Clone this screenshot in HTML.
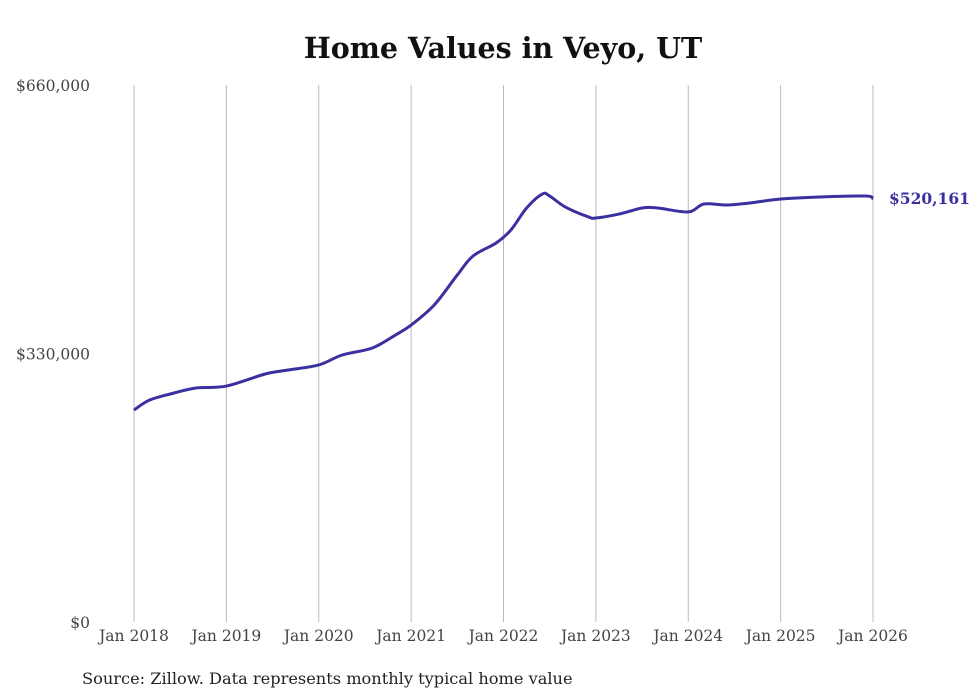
<!DOCTYPE html>
<html><head><meta charset="utf-8"><style>
html,body{margin:0;padding:0;background:#fff;width:980px;height:699px;overflow:hidden}
text{font-family:"DejaVu Serif","Liberation Serif",serif}
</style></head><body>
<svg id="chart" width="980" height="699" xmlns="http://www.w3.org/2000/svg">
<text x="503" y="58" text-anchor="middle" font-size="28.5" font-weight="bold" fill="#111">Home Values in Veyo, UT</text>
<g id="grid"></g><g id="yaxis"></g><g id="xaxis"></g><g id="series"></g>
<text x="82" y="684" font-size="16.2" fill="#222">Source: Zillow. Data represents monthly typical home value</text>
</svg>
<script>
const dates=[2018.0,2018.17,2018.42,2018.67,2019.0,2019.42,2019.67,2020.0,2020.25,2020.58,2020.83,2021.0,2021.25,2021.5,2021.67,2021.92,2022.08,2022.25,2022.42,2022.5,2022.67,2022.92,2023.0,2023.25,2023.5,2023.67,2024.0,2024.17,2024.42,2024.67,2025.0,2025.42,2025.92,2026.0];
const values=[260600,272800,281000,287600,290000,304800,309700,315900,328000,336800,352700,365000,389600,426500,449800,465800,481800,508800,526000,523500,510000,497800,496500,501400,508800,508800,504000,513700,512500,515000,519900,522400,523500,520161];
const yTicks=[0,330000,660000];
const yTickLabels=["$0","$330,000","$660,000"];
const xTicks=[2018,2019,2020,2021,2022,2023,2024,2025,2026];
const xTickLabels=["Jan 2018","Jan 2019","Jan 2020","Jan 2021","Jan 2022","Jan 2023","Jan 2024","Jan 2025","Jan 2026"];
const lastLabel="$520,161";
const NS="http://www.w3.org/2000/svg";
const x=d=>134+(d-2018)*(873-134)/8;
const y=v=>622-v*(622-85)/660000;
function mk(t,a,p,txt){const e=document.createElementNS(NS,t);for(const k in a)e.setAttribute(k,a[k]);if(txt!==undefined)e.textContent=txt;p.appendChild(e);return e;}
const g=document.getElementById('grid'),ya=document.getElementById('yaxis'),xa=document.getElementById('xaxis'),s=document.getElementById('series');
xTicks.forEach((t,i)=>{
 const l=mk('line',{x1:x(t),x2:x(t),y1:85,y2:622,stroke:'#bbb','stroke-width':1},g);
 
 
 const tx=mk('text',{x:x(t),y:641,'text-anchor':'middle','font-size':15.5,fill:'#444'},xa,xTickLabels[i]);
 
 
});
yTicks.forEach((t,i)=>{
 const tx=mk('text',{x:90,y:y(t)+6,'text-anchor':'end','font-size':15.5,fill:'#444'},ya,yTickLabels[i]);
 
 
});
const pts=dates.map((d,i)=>[x(d),y(values[i])]);
let dstr='M'+pts[0][0]+','+pts[0][1];
for(let i=0;i<pts.length-1;i++){const p0=pts[Math.max(0,i-1)],p1=pts[i],p2=pts[i+1],p3=pts[Math.min(pts.length-1,i+2)];
 const c1=[p1[0]+(p2[0]-p0[0])/6,p1[1]+(p2[1]-p0[1])/6],c2=[p2[0]-(p3[0]-p1[0])/6,p2[1]-(p3[1]-p1[1])/6];
 dstr+=` C${c1[0]},${c1[1]} ${c2[0]},${c2[1]} ${p2[0]},${p2[1]}`;}
const path=mk('path',{d:dstr,fill:'none',stroke:'#3b30a0','stroke-width':3,'stroke-linejoin':'round'},s);


const last=pts[pts.length-1];
const lb=mk('text',{x:last[0]+16,y:last[1]+5,'font-size':15.5,'font-weight':'bold',fill:'#3b30a0'},s,lastLabel);


</script>
</body></html>
